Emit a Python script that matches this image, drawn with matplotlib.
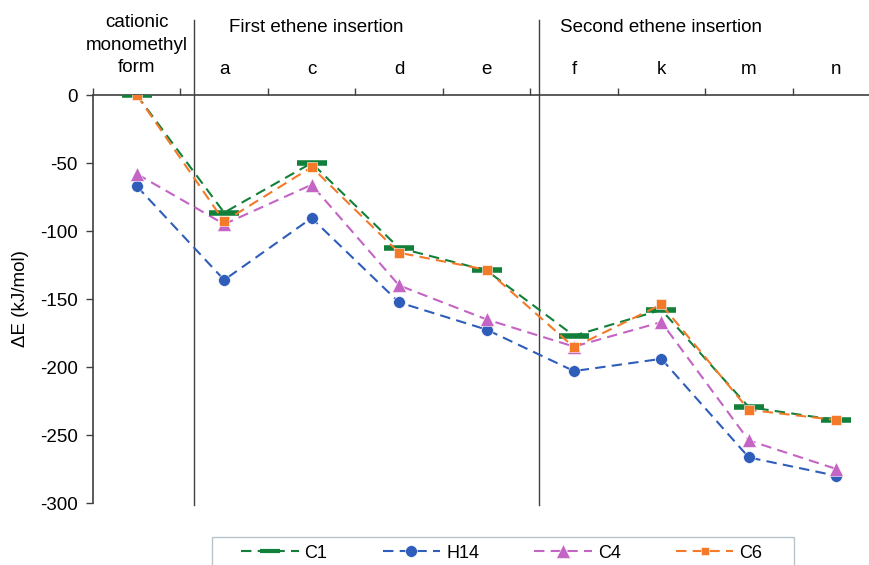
import numpy as np
import matplotlib
matplotlib.use("Agg")
import matplotlib.pyplot as plt
from matplotlib.transforms import blended_transform_factory
from matplotlib.patches import Rectangle

plt.rcParams['font.family'] = ['Liberation Sans', 'DejaVu Sans']
plt.rcParams['axes.unicode_minus'] = False

# categories along the reaction path
categories = ["cationic\nmonomethyl\nform", "a", "c", "d", "e", "f", "k", "m", "n"]

# energies in kJ/mol
c1 = [0, -86.5, -50, -112.5, -129, -177, -158, -229.5, -239]
h14 = [-67, -136, -90.5, -152.5, -172.5, -203, -194, -266.5, -280]
c4 = [-58, -95, -66, -140, -165, -185, -167, -254, -275]
c6 = [0, -93, -53, -116, -128.5, -185.5, -154, -231.5, -239]

section_titles = ["First ethene insertion", "Second ethene insertion"]
section_x = [2.05, 6.0]
divider_x = [0.66, 4.6]

green = "#12803a"
blue = "#2f5dba"
purple = "#c464c4"
orange = "#f47a2a"
FS = 13.5

W, H = 869, 565
fig = plt.figure(figsize=(W / 100, H / 100), dpi=100)
ax = fig.add_axes([93 / W, 1 - 503 / H, (880 - 93) / W, 408 / H])
tr = blended_transform_factory(ax.transData, fig.transFigure)

x = np.arange(len(categories))
ax.plot(x, h14, ls=(0, (5, 3)), lw=1.5, color=blue, marker="o", ms=8.5,
        mec="white", mew=0.4, label="H14", zorder=3)
ax.plot(x, c4, ls=(0, (5, 3)), lw=1.5, color=purple, marker="^", ms=9.5,
        mec="white", mew=0.4, label="C4", zorder=4)
ax.plot(x, c1, ls=(0, (5, 3)), lw=1.5, color=green, marker="_", ms=21,
        mew=4, label="C1", zorder=5)
ax.plot(x, c6, ls=(0, (5, 3)), lw=1.5, color=orange, marker="s", ms=6.5,
        mec="white", mew=0.4, label="C6", zorder=6)

ax.set_xlim(-0.5, len(categories) - 0.5)
ax.set_ylim(-300, 0)

for s in ["right", "bottom"]:
    ax.spines[s].set_visible(False)
for s in ["left", "top"]:
    ax.spines[s].set_color("#404040")
    ax.spines[s].set_linewidth(1.2)

ax.set_yticks(np.arange(-300, 1, 50))
ax.tick_params(axis="y", direction="out", length=5, width=1, colors="#404040",
               labelcolor="black", labelsize=FS, pad=6)
ax.xaxis.set_ticks_position("top")
ax.set_xticks(np.arange(-0.5, len(categories) - 0.5, 1.0))
ax.tick_params(axis="x", direction="out", length=5, width=1, colors="#404040",
               labeltop=False, labelbottom=False)

ax.set_ylabel("ΔE (kJ/mol)", fontsize=FS)
ax.yaxis.set_label_coords(21 / W, 1 - 299 / H, transform=fig.transFigure)
ax.yaxis.label.set_va("center")

# category labels above the top axis
for i, lab in enumerate(categories):
    y = 45 if i == 0 else 70
    ax.text(i, 1 - y / H, lab, transform=tr, ha="center", va="center",
            fontsize=FS, linespacing=1.42)

for t, xs in zip(section_titles, section_x):
    ax.text(xs, 1 - 28 / H, t, transform=tr, ha="center", va="center", fontsize=FS)

for xd in divider_x:
    ax.plot([xd, xd], [1 - 20 / H, 1 - 505 / H], transform=tr, color="#404040",
            lw=1.0, clip_on=False, zorder=1)

handles, labels = ax.get_legend_handles_labels()
order = [2, 0, 1, 3]
leg = fig.legend([handles[i] for i in order], [labels[i] for i in order],
                 loc="center left", bbox_to_anchor=(241 / W, 1 - 553 / H),
                 ncol=4, fontsize=13, frameon=False,
                 handlelength=3.2, columnspacing=3.05, handletextpad=0.32,
                 borderpad=0, borderaxespad=0)
lh = leg.legend_handles
lh[0].set_markersize(14)
lh[0].set_markeredgewidth(3)
lh[1].set_markersize(8.5)
lh[2].set_markersize(10)
lh[3].set_markersize(6)
fig.patches.append(Rectangle((212 / W, -0.02), (794 - 212) / W, 0.02 + 1 - 537 / H,
                             transform=fig.transFigure, fill=False,
                             edgecolor="#b8c4cc", lw=1.0))

fig.savefig("out.png", dpi=100)
